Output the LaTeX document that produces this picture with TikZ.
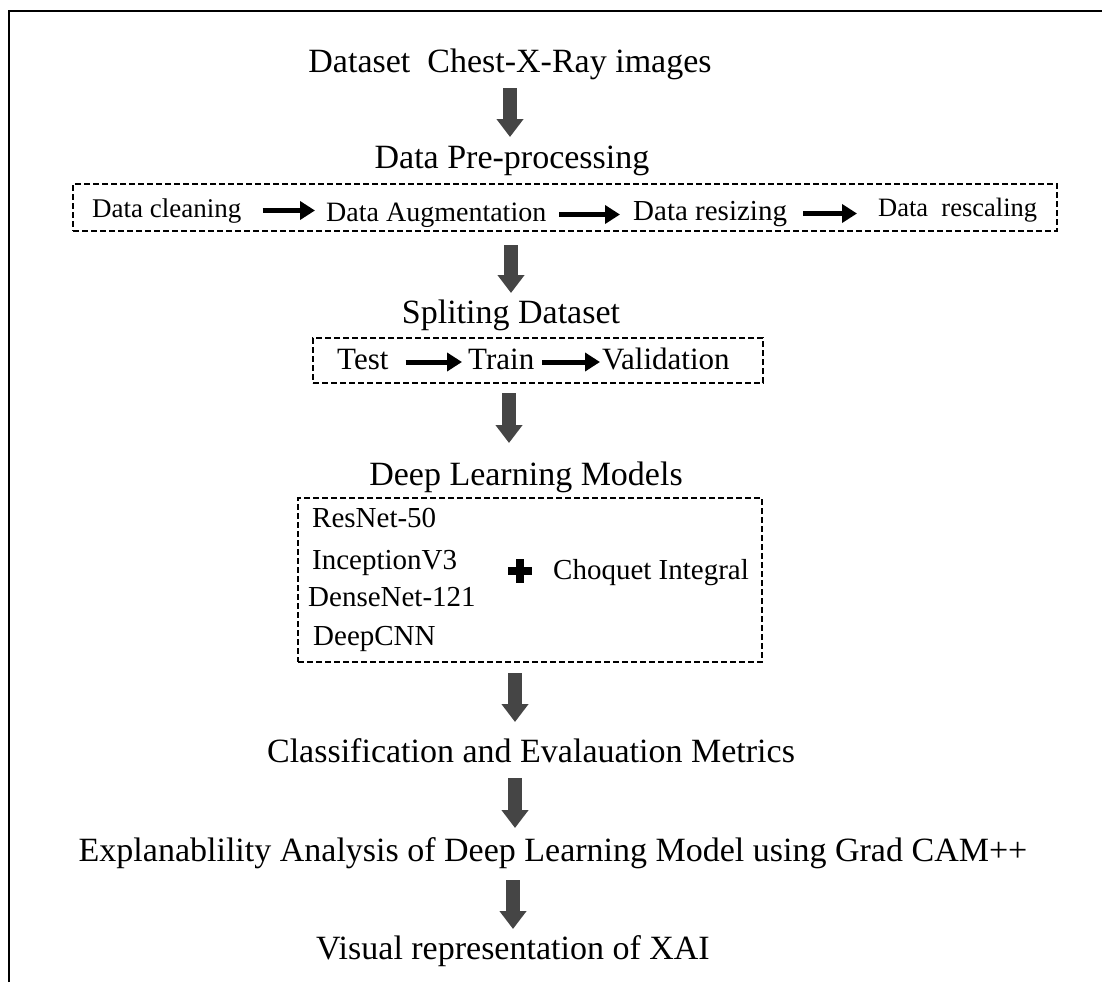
\documentclass[tikz,border=0pt]{standalone}
\usepackage{fontspec}
\setmainfont{Liberation Serif}
\usetikzlibrary{arrows.meta}
\definecolor{arrowgrey}{HTML}{454545}
\begin{document}
\begin{tikzpicture}[x=1pt,y=-1pt,
  heading/.style={font=\fontsize{34}{40}\selectfont, anchor=base, inner sep=0pt},
  rowA/.style={anchor=base west, inner sep=0pt, text height=19pt, text depth=6pt},
  rowB/.style={anchor=base west, inner sep=0pt, text height=22pt, text depth=8pt,
    font=\fontsize{31}{36}\selectfont},
  model/.style={anchor=base west, inner sep=0pt, font=\fontsize{29}{34}\selectfont},
  dbox/.style={draw, line width=1.8pt, dash pattern=on 6pt off 3pt, inner sep=0pt},
  bigarrow/.style={draw=arrowgrey, line width=13.5pt,
    -{Triangle[width=26pt,length=18pt,fill=arrowgrey]}},
  smallarrow/.style={line width=5pt, -{Triangle[width=18pt,length=15pt]}},
  frame/.style={line width=1.5pt}
]
\useasboundingbox (0,0) rectangle (1102,982);

% outer frame: top and left edges only
\coordinate (fa) at (9,982);
\coordinate (fb) at (9,11);
\coordinate (fc) at (1102,11);
\draw[frame] (fa) -- (fb) -- (fc);

% headings
\node[heading] (title)  at (510,72)  {Dataset~~Chest-X-Ray images};
\node[heading] (pre)    at (512,168) {Data Pre-processing};
\node[heading] (split)  at (511,323) {Spliting Dataset};
\node[heading] (deep)   at (526,485) {Deep Learning Models};
\node[heading] (classif) at (531,762) {Classification and Evalauation Metrics};
\node[heading] (explain) at (553,861) {Explanablility Analysis of Deep Learning Model using Grad CAM++};
\node[heading] (visual) at (513,959) {Visual representation of XAI};

% dashed groups
\node[dbox, minimum width=984pt, minimum height=47pt] (box1) at (565,207.5) {};
\node[dbox, minimum width=450pt, minimum height=45pt] (box2) at (538,360.5) {};
\node[dbox, minimum width=464pt, minimum height=164pt] (box3) at (530,580) {};

% pre-processing steps
\node[rowA, font=\fontsize{27}{32}\selectfont] (clean) at (92,217) {Data cleaning};
\node[rowA, font=\fontsize{28}{33}\selectfont] (aug)   at (326,221) {Data Augmentation};
\node[rowA, font=\fontsize{29}{34}\selectfont] (resz)  at (633,220) {Data resizing};
\node[rowA, font=\fontsize{26.5}{32}\selectfont] (resc) at (878,216) {Data~~rescaling};
\draw[smallarrow, shorten <=21pt, shorten >=11pt] (clean.east) -- (clean.east -| aug.west);
\draw[smallarrow, shorten <=13pt, shorten >=13pt] (aug.east) -- (aug.east -| resz.west);
\draw[smallarrow, shorten <=16pt, shorten >=21pt] (resz.east) -- (resz.east -| resc.west);

% dataset split
\node[rowB] (test)  at (337,369) {Test};
\node[rowB] (train) at (468,369) {Train};
\node[rowB] (valid) at (602,369) {Validation};
\draw[smallarrow, shorten <=17pt, shorten >=6pt] (test.east) -- (train.west);
\draw[smallarrow, shorten <=8pt, shorten >=2pt] (train.east) -- (valid.west);

% models
\node[model] (resnet) at (312,527) {ResNet-50};
\node[model] (incep)  at (312,569) {InceptionV3};
\node[model] (dense)  at (308,606) {DenseNet-121};
\node[model] (dcnn)   at (313,645) {DeepCNN};
\fill (508,567) rectangle (532,575);
\fill (516,559) rectangle (524,583);
\node[model] (choq) at (553,579) {Choquet Integral};

% flow arrows between stages
\coordinate (a1s) at (510,88);  \coordinate (a1e) at (510,137);
\coordinate (a2s) at (511,245); \coordinate (a2e) at (511,293);
\coordinate (a3s) at (509,393); \coordinate (a3e) at (509,443);
\coordinate (a4s) at (515,673); \coordinate (a4e) at (515,722);
\coordinate (a5s) at (515,778); \coordinate (a5e) at (515,828);
\coordinate (a6s) at (513,880); \coordinate (a6e) at (513,929);
\draw[bigarrow] (a1s) -- (a1e);
\draw[bigarrow] (a2s) -- (a2e);
\draw[bigarrow] (a3s) -- (a3e);
\draw[bigarrow] (a4s) -- (a4e);
\draw[bigarrow] (a5s) -- (a5e);
\draw[bigarrow] (a6s) -- (a6e);
\end{tikzpicture}
\end{document}
